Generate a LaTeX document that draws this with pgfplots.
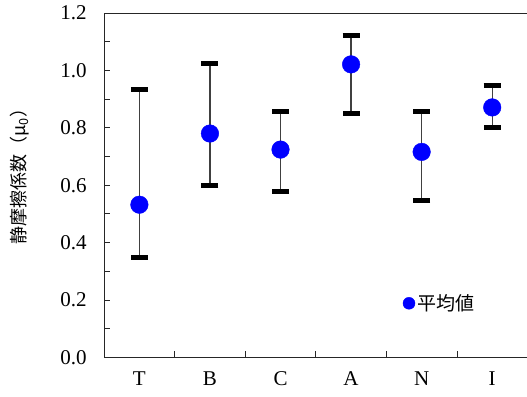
\documentclass[border=0pt]{standalone}
\usepackage{fontspec}
\setmainfont{Liberation Serif}
\newfontfamily\jp{Noto Sans CJK JP}
\usepackage{pgfplots}
\pgfplotsset{compat=1.18}
\usepackage{pgfplotstable}
\definecolor{ptblue}{RGB}{0,0,255}
\pgfplotstableread{
x y ep em
0 0.532 0.403 0.184
1 0.780 0.245 0.180
2 0.724 0.132 0.147
3 1.021 0.100 0.172
4 0.716 0.140 0.171
5 0.871 0.075 0.071
}\datatab
\begin{document}
\begin{tikzpicture}
\begin{axis}[
  scale only axis,
  width=423pt, height=344pt,
  xmin=-0.5, xmax=5.5,
  ymin=0, ymax=1.2,
  axis x line*=bottom, axis y line*=left,
  axis line style={black!85, line width=1pt, -},
  after end axis/.code={\draw[black!85, line width=1pt] (rel axis cs:0,1) -- (rel axis cs:1,1);},
  xtick={0,1,2,3,4,5},
  xticklabels={T,B,C,A,N,I},
  major x tick style={draw=none},
  minor xtick={0.5,1.5,2.5,3.5,4.5},
  ytick={0,0.2,0.4,0.6,0.8,1.0,1.2},
  minor ytick={0.1,0.3,0.5,0.7,0.9,1.1},
  tick align=inside,
  major tick length=6pt, minor tick length=6pt,
  tick style={black!85, line width=0.8pt},
  xtick pos=bottom, ytick pos=left,
  /pgf/number format/assume math mode=true,
  y tick label style={/pgf/number format/fixed, /pgf/number format/fixed zerofill, /pgf/number format/precision=1, xshift=-14pt, font=\fontsize{21}{23}\selectfont},
  x tick label style={yshift=-11pt, font=\fontsize{21}{23}\selectfont},
  ylabel={\jp 静摩擦係数（μ\textsubscript{0}）},
  ylabel style={at={(axis description cs:-0.199,0.538)}, anchor=center, rotate=0, font=\fontsize{18}{20}\selectfont},
  legend style={at={(axis description cs:0.705,0.157)}, anchor=west, draw=none, fill=none, font=\fontsize{19}{21}\selectfont\jp, inner sep=0pt},
  legend cell align=left,
  legend image code/.code={\fill[ptblue] (0.3em,0) circle (6pt);},
]
\addplot[
  only marks,
  mark=*,
  mark size=8.8pt,
  mark options={fill=ptblue, draw=ptblue},
  error bars/.cd,
    y dir=both, y explicit,
    error bar style={line width=1.3pt, black!75},
    error mark options={black, line width=5pt, mark size=8.5pt, rotate=90},
] table[x=x, y=y, y error plus=ep, y error minus=em] {\datatab};
\addlegendentry{平均値}
\end{axis}
\pgfresetboundingbox
\path (-104pt,-39pt) rectangle (422.5pt,357pt);
\end{tikzpicture}
\end{document}
